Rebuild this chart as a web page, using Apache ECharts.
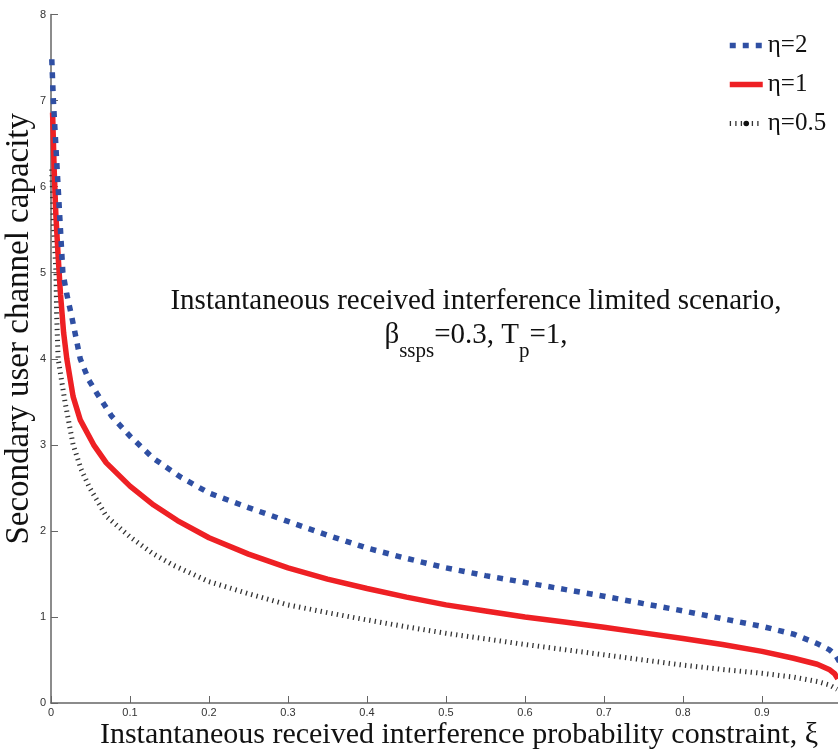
<!DOCTYPE html>
<html>
<head>
<meta charset="utf-8">
<script src="https://cdn.jsdelivr.net/npm/echarts@6.0.0/dist/echarts.min.js"></script>
<style>
  html, body { margin: 0; padding: 0; background: #fff; }
  #chart { width: 838px; height: 750px; }
</style>
</head>
<body>
<div id="chart"></div>
<script>
// 读图得到的数据
var xEta2 = [0.001, 0.003, 0.006, 0.009, 0.012, 0.015, 0.02, 0.026, 0.037, 0.048, 0.058, 0.077, 0.1, 0.13, 0.165, 0.2, 0.25, 0.3, 0.35, 0.4, 0.45, 0.5, 0.55, 0.6, 0.65, 0.7, 0.75, 0.8, 0.85, 0.9, 0.94, 0.97, 0.985, 0.993, 0.998];
var yEta2 = [7.48, 7.0, 6.5, 6.0, 5.5, 5.0, 4.75, 4.5, 4.0, 3.75, 3.6, 3.33, 3.1, 2.84, 2.62, 2.44, 2.27, 2.11, 1.95, 1.80, 1.68, 1.57, 1.48, 1.40, 1.32, 1.24, 1.155, 1.07, 0.98, 0.89, 0.80, 0.69, 0.62, 0.56, 0.48];

var xEta1 = [0.002, 0.004, 0.006, 0.009, 0.012, 0.016, 0.02, 0.028, 0.037, 0.054, 0.07, 0.1, 0.13, 0.16, 0.2, 0.25, 0.3, 0.35, 0.4, 0.45, 0.5, 0.55, 0.6, 0.65, 0.7, 0.75, 0.8, 0.85, 0.9, 0.94, 0.97, 0.985, 0.992, 0.996];
var yEta1 = [6.86, 6.2, 5.7, 5.2, 4.75, 4.3, 4.0, 3.56, 3.29, 3.0, 2.79, 2.52, 2.3, 2.12, 1.92, 1.73, 1.57, 1.44, 1.33, 1.23, 1.14, 1.07, 1.00, 0.94, 0.88, 0.815, 0.75, 0.68, 0.60, 0.52, 0.45, 0.39, 0.34, 0.28];

var xEta05 = [0.001, 0.003, 0.0063, 0.0072, 0.009, 0.0177, 0.028, 0.038, 0.049, 0.07, 0.1, 0.13, 0.155, 0.2, 0.25, 0.3, 0.35, 0.4, 0.45, 0.5, 0.55, 0.6, 0.65, 0.7, 0.75, 0.8, 0.85, 0.9, 0.94, 0.97, 0.985, 0.995];
var yEta05 = [6.2, 5.6, 5.0, 4.5, 4.0, 3.5, 3.0, 2.72, 2.5, 2.17, 1.93, 1.73, 1.60, 1.41, 1.27, 1.14, 1.05, 0.965, 0.885, 0.81, 0.745, 0.68, 0.62, 0.56, 0.50, 0.44, 0.39, 0.345, 0.30, 0.25, 0.21, 0.16];

var seriesNames = ['η=2', 'η=1', 'η=0.5'];

function pairs(xs, ys) {
  return xs.map(function (x, i) { return [x, ys[i]]; });
}

var serif = '"Liberation Serif", "DejaVu Serif", serif';
var sans = '"Liberation Sans", Arial, sans-serif';

var myChart = echarts.init(document.getElementById('chart'));

var option = {
  animation: false,
  grid: {
    left: 51,
    top: 14.5,
    width: 790,
    bottom: 47,
    containLabel: false,
    outerBoundsMode: 'none'
  },
  legend: {
    orient: 'vertical',
    left: 722,
    top: 28,
    itemWidth: 33,
    itemHeight: 7,
    itemGap: 14,
    data: [
      { name: seriesNames[0], itemStyle: { opacity: 0 }, lineStyle: { width: 5.5 } },
      { name: seriesNames[1], itemStyle: { opacity: 0 }, lineStyle: { width: 5.5 } },
      { name: seriesNames[2], lineStyle: { width: 5 } }
    ],
    textStyle: { fontFamily: serif, fontSize: 25, color: '#111' }
  },
  xAxis: {
    type: 'value',
    min: 0,
    max: 1,
    interval: 0.1,
    name: 'Instantaneous received interference probability constraint, ξ',
    nameLocation: 'middle',
    nameGap: 17,
    nameMoveOverlap: false,
    nameTextStyle: { fontFamily: serif, fontSize: 30, color: '#111', padding: [0, 0, 0, 26] },
    axisLine: { lineStyle: { color: '#666', width: 1.5 } },
    axisTick: { inside: true, length: 7, lineStyle: { color: '#666' } },
    axisLabel: { showMaxLabel: false, fontFamily: sans, fontSize: 11, color: '#333', margin: 4 },
    splitLine: { show: false }
  },
  yAxis: {
    type: 'value',
    min: 0,
    max: 8,
    interval: 1,
    name: 'Secondary user channel capacity',
    nameLocation: 'middle',
    nameGap: 15,
    nameMoveOverlap: false,
    nameTextStyle: { fontFamily: serif, fontSize: 33, color: '#111', padding: [0, 0, 0, 60] },
    axisLine: { lineStyle: { color: '#666', width: 1.5 } },
    axisTick: { inside: true, length: 7, lineStyle: { color: '#666' } },
    axisLabel: { fontFamily: sans, fontSize: 11, color: '#333', margin: 5 },
    splitLine: { show: false }
  },
  graphic: [{
    type: 'text',
    x: 476,
    y: 287,
    style: {
      text: '{n|Instantaneous received interference limited scenario,}\n{n|β}{s|ssps}{n|=0.3, T}{s|p}{n|=1,}',
      textAlign: 'center',
      rich: {
        n: { fontFamily: serif, fontSize: 29, lineHeight: 34, verticalAlign: 'top', fill: '#111' },
        s: { fontFamily: serif, fontSize: 21, lineHeight: 41, verticalAlign: 'bottom', fill: '#111' }
      }
    }
  }],
  series: [
    {
      name: seriesNames[0],
      type: 'line',
      z: 4,
      symbol: 'none',
      data: pairs(xEta2, yEta2),
      lineStyle: { color: '#2f4fa3', width: 5.5, type: [6, 7] },
      itemStyle: { color: '#2f4fa3' }
    },
    {
      name: seriesNames[1],
      type: 'line',
      z: 3,
      symbol: 'none',
      data: pairs(xEta1, yEta1),
      lineStyle: { color: '#ee2024', width: 5.5 },
      itemStyle: { color: '#ee2024' }
    },
    {
      name: seriesNames[2],
      type: 'line',
      z: 2,
      symbol: 'circle',
      symbolSize: 5,
      showSymbol: false,
      data: pairs(xEta05, yEta05),
      lineStyle: { color: '#333', width: 5, type: [1.3, 4.2] },
      itemStyle: { color: '#111' }
    }
  ]
};

myChart.setOption(option);

window.addEventListener('resize', function () {
  myChart.resize();
});
</script>
</body>
</html>
